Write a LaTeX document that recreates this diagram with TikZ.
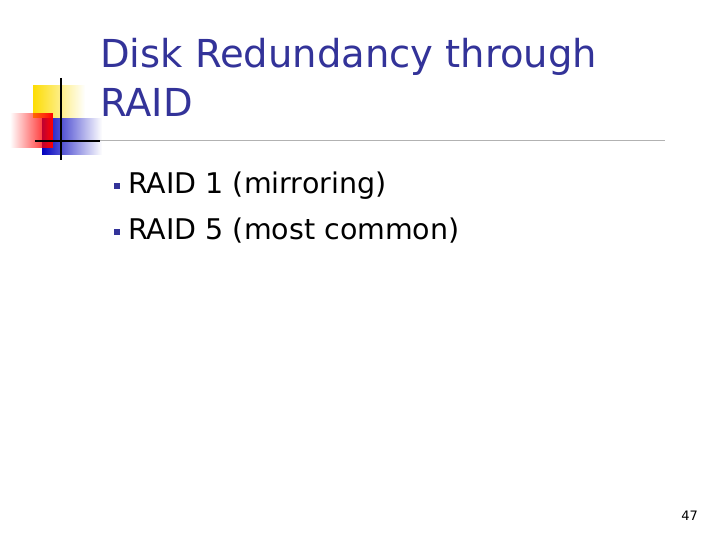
\documentclass[tikz,border=0pt]{standalone}
\usepackage{fontspec}
\setmainfont{DejaVu Sans}
\usetikzlibrary{fadings}
\definecolor{navy}{RGB}{51,51,153}
\begin{document}
\begin{tikzpicture}[x=1pt,y=-1pt,
  title/.style={anchor=base west,inner sep=0,text=navy,font=\fontsize{38.5}{44}\selectfont},
  item/.style={anchor=base west,inner sep=0,font=\fontsize{28.5}{32}\selectfont},
  bul/.style={fill=navy,minimum size=6pt,inner sep=0}]
\useasboundingbox (0,0) rectangle (720,540);
\fill[white] (0,0) rectangle (720,540);
\fill[yellow!80!orange,path fading=east] (33,85) rectangle (85,118);
\fill[blue!75!black,path fading=east] (42,118) rectangle (102,155);
\fill[red,path fading=west] (10,113) rectangle (53,148);
\draw[line width=1.6pt] (61,78) -- (61,160);
\draw[line width=1.6pt] (35,141) -- (100,141);
\draw[gray!60,line width=1pt] (100,141) -- (665,141);
\node[title] (t1) at (100,68) {Disk Redundancy through};
\node[title] (t2) at (100,117) {RAID};
\node[bul] (b1) at (117,186) {};
\node[bul] (b2) at (117,232) {};
\node[item] (i1) at (128,194) {RAID 1 (mirroring)};
\node[item] (i2) at (128,240) {RAID 5 (most common)};
\node[anchor=base east,inner sep=0,font=\fontsize{13}{15}\selectfont] (p) at (698,520) {47};
\end{tikzpicture}
\end{document}
